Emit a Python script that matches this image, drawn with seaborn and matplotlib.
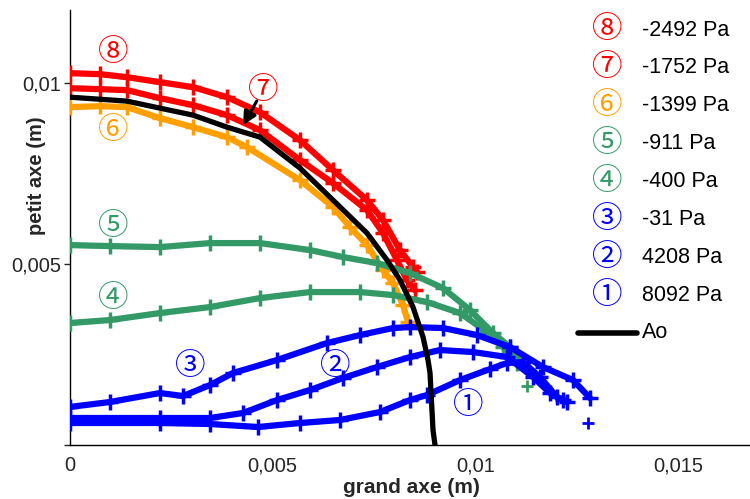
import numpy as np
import pandas as pd
import matplotlib
matplotlib.use("Agg")
import matplotlib.pyplot as plt
import seaborn as sns
from matplotlib.lines import Line2D

# ---------------- data ----------------
# curve 8 : -2492 Pa
c8_x = [0, 0.000751, 0.001416, 0.002229, 0.003042, 0.003879, 0.004692, 0.005677,
        0.006490, 0.007327, 0.007722, 0.008140, 0.008460, 0.008559]
c8_y = [0.010275, 0.010247, 0.010164, 0.010026, 0.009888, 0.009612, 0.009197, 0.008424,
        0.007596, 0.006767, 0.006215, 0.005386, 0.004916, 0.004778]
# curve 7 : -1752 Pa
c7_x = [0, 0.000751, 0.001416, 0.002229, 0.003042, 0.003879, 0.004692, 0.005677,
        0.006490, 0.007327, 0.007722, 0.008066, 0.008312, 0.008510]
c7_y = [0.009860, 0.009833, 0.009805, 0.009584, 0.009391, 0.009115, 0.008700, 0.007872,
        0.007236, 0.006491, 0.005855, 0.005110, 0.004557, 0.004281]
# curve 6 : -1399 Pa
c6_x = [0, 0.000751, 0.001416, 0.002229, 0.003042, 0.003879, 0.004372, 0.005677,
        0.006490, 0.006909, 0.007327, 0.007722, 0.007968, 0.008214, 0.008337]
c6_y = [0.009336, 0.009363, 0.009336, 0.009032, 0.008783, 0.008507, 0.008231, 0.007319,
        0.006574, 0.006021, 0.005524, 0.004834, 0.004474, 0.003867, 0.003397]
# curve 5 : -911 Pa
c5_x = [0, 0.000998, 0.002229, 0.003460, 0.004692, 0.005923, 0.006736, 0.007573,
        0.008386, 0.009199, 0.009864, 0.010430, 0.010849, 0.011095]
c5_y = [0.005524, 0.005496, 0.005469, 0.005579, 0.005579, 0.005386, 0.005193, 0.005027,
        0.004751, 0.004336, 0.003729, 0.003093, 0.002707, 0.002292]
c5_extra_x = [0.011268]
c5_extra_y = [0.001630]
# curve 4 : -400 Pa
c4_x = [0, 0.000998, 0.002229, 0.003460, 0.004692, 0.005923, 0.007155, 0.007968,
        0.008805, 0.009618, 0.010283, 0.010677, 0.011022]
c4_y = [0.003370, 0.003453, 0.003646, 0.003812, 0.004060, 0.004226, 0.004226, 0.004143,
        0.003950, 0.003646, 0.003121, 0.002707, 0.002265]
# curve 3 : -31 Pa
c3_x = [0, 0.000998, 0.002229, 0.002796, 0.003460, 0.004027, 0.005111, 0.006342,
        0.007155, 0.007968, 0.008386, 0.009199, 0.010036, 0.010849, 0.011661, 0.012400, 0.012819]
c3_y = [0.001050, 0.001188, 0.001436, 0.001353, 0.001657, 0.001989, 0.002348, 0.002817,
        0.003038, 0.003232, 0.003259, 0.003232, 0.003038, 0.002707, 0.002154, 0.001795, 0.001298]
# curve 2 : 4208 Pa
c2_x = [0, 0.002229, 0.003460, 0.004273, 0.005111, 0.005923, 0.006736, 0.007573,
        0.008386, 0.009125, 0.009938, 0.010775, 0.011416, 0.011834, 0.012154]
c2_y = [0.000746, 0.000746, 0.000746, 0.000884, 0.001243, 0.001519, 0.001851, 0.002154,
        0.002431, 0.002624, 0.002569, 0.002431, 0.001878, 0.001436, 0.001243]
# curve 1 : 8092 Pa
c1_x = [0, 0.002229, 0.003460, 0.004643, 0.005677, 0.006662, 0.007647, 0.008386,
        0.008805, 0.009618, 0.010357, 0.010775, 0.011169, 0.011587, 0.012006, 0.012252]
c1_y = [0.000608, 0.000608, 0.000580, 0.000497, 0.000608, 0.000691, 0.000911, 0.001243,
        0.001381, 0.001795, 0.002099, 0.002265, 0.002292, 0.001878, 0.001326, 0.001188]
c1_extra_x = [0.012771]
c1_extra_y = [0.000608]
# Ao
ao_x = [0, 0.001416, 0.002229, 0.003042, 0.003879, 0.004692, 0.005677, 0.006490,
        0.007327, 0.007820, 0.008140, 0.008460, 0.008707, 0.008830, 0.008879, 0.008953, 0.009002]
ao_y = [0.009612, 0.009502, 0.009308, 0.009115, 0.008783, 0.008507, 0.007651, 0.006767,
        0.005855, 0.005110, 0.004557, 0.003812, 0.002983, 0.002348, 0.001989, 0.000414, 0.0]

series_labels = ["⑧", "⑦", "⑥", "⑤", "④", "③", "②", "①"]
pressures = ["-2492 Pa", "-1752 Pa", "-1399 Pa", "-911 Pa", "-400 Pa", "-31 Pa", "4208 Pa", "8092 Pa"]

x_ticks = [0, 0.005, 0.01, 0.015]
x_ticklabels = ["0", "0,005", "0,01", "0,015"]
y_ticks = [0, 0.005, 0.01]
y_ticklabels = ["", "0,005", "0,01"]

RED = "#FF0000"
ORANGE = "#FF9F00"
GREEN = "#339966"
BLUE = "#0000FF"
series_colors = [RED, RED, ORANGE, GREEN, GREEN, BLUE, BLUE, BLUE]

# ---------------- plot ----------------
sns.set_style("white")
plt.rcParams['font.family'] = ['Liberation Sans', 'DejaVu Sans']
CJK = ['Noto Sans CJK JP', 'DejaVu Sans']

fig = plt.figure(figsize=(7.5, 4.99), dpi=100)
W, H = 750, 499
ax = fig.add_axes([69.5 / W, 1 - 445 / H, 1 - 69.5 / W, (445 - 10) / H])

curves = [(c8_x, c8_y), (c7_x, c7_y), (c6_x, c6_y), (c5_x, c5_y),
          (c4_x, c4_y), (c3_x, c3_y), (c2_x, c2_y), (c1_x, c1_y)]
for (xs, ys), col in zip(curves, series_colors):
    df = pd.DataFrame({"x": xs, "y": ys})
    sns.lineplot(data=df, x="x", y="y", ax=ax, color=col, lw=4.5, marker="+",
                 markersize=12, markeredgewidth=2.5, markeredgecolor=col,
                 sort=False, estimator=None, zorder=3)

for xs, ys, col in [(c5_extra_x, c5_extra_y, GREEN), (c1_extra_x, c1_extra_y, BLUE)]:
    ax.plot(xs, ys, linestyle="none", marker="+", markersize=9, markeredgewidth=2,
            color=col, zorder=3)

df_ao = pd.DataFrame({"x": ao_x, "y": ao_y})
sns.lineplot(data=df_ao, x="x", y="y", ax=ax, color="black", lw=3.8, sort=False,
             estimator=None, zorder=5)

ax.set_xlim(0, 0.01676)
ax.set_ylim(0, 0.01202)
ax.set_xticks(x_ticks)
ax.set_xticklabels(x_ticklabels, fontsize=14.5)
ax.set_yticks(y_ticks)
ax.set_yticklabels(y_ticklabels, fontsize=14.5)
ax.tick_params(axis="x", length=0, pad=8)
ax.tick_params(axis="y", length=4, width=1, direction="out", left=True, pad=2)
for s in ["top", "right"]:
    ax.spines[s].set_visible(False)
for s in ["left", "bottom"]:
    ax.spines[s].set_color("black")
    ax.spines[s].set_linewidth(1)

ax.set_xlabel("grand axe (m)", fontsize=15, fontweight="bold")
ax.set_ylabel("petit axe (m)", fontsize=14.5, fontweight="bold")
ax.xaxis.set_label_coords(0.502, -0.077)
ax.yaxis.set_label_coords(-0.034, 0.62)

# circled labels on curves
ann = [("⑧", 0.001071, 0.010855, RED), ("⑥", 0.001071, 0.008700, ORANGE),
       ("⑤", 0.001071, 0.006049, GREEN), ("④", 0.001071, 0.004060, GREEN),
       ("③", 0.002968, 0.002182, BLUE), ("②", 0.006539, 0.002182, BLUE),
       ("①", 0.009815, 0.001105, BLUE)]
for t, x, y, c in ann:
    ax.text(x, y, t, color=c, fontsize=22, family=CJK, ha="center", va="center", zorder=6)
ax.annotate("⑦", xy=(0.004273, 0.008838), xytext=(0.004766, 0.009805), color=RED,
            fontsize=22, family=CJK, ha="center", va="center", zorder=6,
            arrowprops=dict(arrowstyle="-|>", color="black", lw=2.2, mutation_scale=20,
                            patchA=None, shrinkA=9, shrinkB=0))

# manual legend
for i, (sym, txt, col) in enumerate(zip(series_labels, pressures, series_colors)):
    yp = 30 + 37.9 * i
    fig.text(607 / W, 1 - yp / H, sym, color=col, fontsize=22, family=CJK,
             ha="center", va="center")
    fig.text(642 / W, 1 - yp / H, txt, color="black", fontsize=15.5, ha="left", va="center")
yp = 333
fig.add_artist(Line2D([578 / W, 637 / W], [1 - yp / H, 1 - yp / H], color="black",
                      lw=4, transform=fig.transFigure, solid_capstyle="round"))
fig.text(642 / W, 1 - yp / H, "Ao", color="black", fontsize=15.5, ha="left", va="center")

fig.savefig("out.png", dpi=100)
